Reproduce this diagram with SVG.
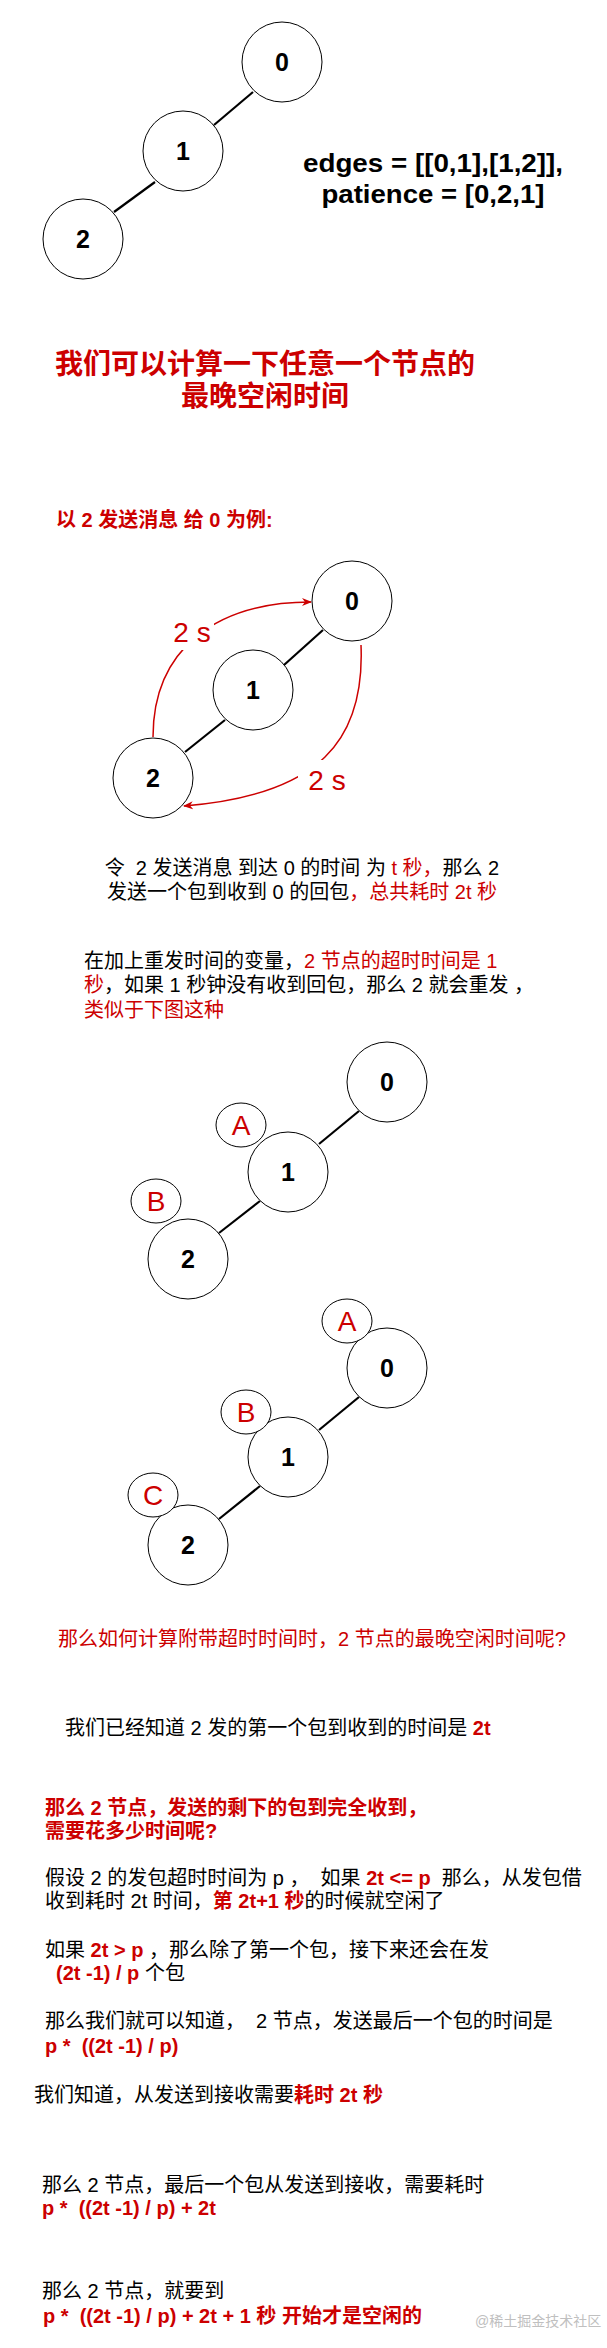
<svg xmlns="http://www.w3.org/2000/svg" width="607" height="2348" viewBox="0 0 607 2348">
<style>
.nd circle{fill:#fff;stroke:#000;stroke-width:1}
.nl{font-family:"Liberation Sans",Arial,sans-serif;font-weight:bold;font-size:25px;text-anchor:middle;fill:#000}
.pk ellipse{fill:#fff;stroke:#000;stroke-width:1}
.pl{font-family:"Liberation Sans",Arial,sans-serif;font-size:28px;text-anchor:middle;fill:#CC0000}
.edge{stroke:#000;stroke-width:2.2;fill:none}
.arc{stroke:#CC0000;stroke-width:1.5;fill:none;marker-end:url(#ah)}
.t{font-family:"Liberation Sans","Noto Sans CJK SC",sans-serif;font-size:20px;fill:#000;white-space:pre}
.r{fill:#CC0000}
.b{font-weight:bold}
.h{font-family:"Liberation Sans","Noto Sans CJK SC",sans-serif;font-size:28px;font-weight:bold;fill:#CC0000;text-anchor:middle}
.big{font-family:"Liberation Sans",Arial,sans-serif;font-size:26px;font-weight:bold;fill:#000;text-anchor:middle}
</style>
<defs>
<marker id="ah" viewBox="0 0 10 10" refX="9" refY="5" markerWidth="10" markerHeight="10" markerUnits="userSpaceOnUse" orient="auto">
<path d="M0,1 L10,5 L0,9 L3,5 Z" fill="#CC0000"/>
</marker>
</defs>
<rect width="607" height="2348" fill="#fff"/>

<!-- Graph 1 -->
<g id="g1-edges">
<line class="edge" x1="214" y1="125" x2="253" y2="92"/>
<line class="edge" x1="155" y1="182" x2="114" y2="212"/>
</g>
<g id="g1-node0" class="nd"><circle cx="282" cy="62" r="40"/><text class="nl" x="282" y="71">0</text></g>
<g id="g1-node1" class="nd"><circle cx="183" cy="151" r="40"/><text class="nl" x="183" y="160">1</text></g>
<g id="g1-node2" class="nd"><circle cx="83" cy="239" r="40"/><text class="nl" x="83" y="248">2</text></g>
<g id="g1-info">
<text class="big" x="433" y="172" textLength="260" lengthAdjust="spacingAndGlyphs">edges = [[0,1],[1,2]],</text>
<text class="big" x="433" y="203" textLength="223" lengthAdjust="spacingAndGlyphs">patience = [0,2,1]</text>
</g>

<g id="heading">
<text class="h" x="265" y="374">我们可以计算一下任意一个节点的</text>
<text class="h" x="265" y="406">最晚空闲时间</text>
</g>
<text id="example-title" class="t r b" x="56" y="527">以 2 发送消息 给 0 为例:</text>

<!-- Graph 2 -->
<g id="g2-edges">
<line class="edge" x1="284" y1="665" x2="323" y2="630"/>
<line class="edge" x1="185" y1="752" x2="225" y2="720"/>
<path class="arc" d="M153,737 C153,650 215,602 311,602"/>
<path class="arc" d="M361,645 C365,740 320,795 184,806"/>
<rect x="171" y="618" width="43" height="32" fill="#fff"/>
<text class="pl" x="192" y="642">2 s</text>
<rect x="298" y="760" width="54" height="36" fill="#fff"/>
<text class="pl" x="327" y="790">2 s</text>
</g>
<g id="g2-node0" class="nd"><circle cx="352" cy="601" r="40"/><text class="nl" x="352" y="610">0</text></g>
<g id="g2-node1" class="nd"><circle cx="253" cy="690" r="40"/><text class="nl" x="253" y="699">1</text></g>
<g id="g2-node2" class="nd"><circle cx="153" cy="778" r="40"/><text class="nl" x="153" y="787">2</text></g>

<g id="text-block1">
<text class="t" x="302" y="875" text-anchor="middle">令  2 发送消息 到达 0 的时间 为 <tspan class="r">t 秒，</tspan>那么 2</text>
<text class="t" x="302" y="899" text-anchor="middle">发送一个包到收到 0 的回包<tspan class="r">，总共耗时 2t 秒</tspan></text>
</g>
<g id="text-block2">
<text class="t" x="84" y="968">在加上重发时间的变量，<tspan class="r">2 节点的超时时间是 1</tspan></text>
<text class="t" x="84" y="992"><tspan class="r">秒</tspan>，如果 1 秒钟没有收到回包，那么 2 就会重发 ，</text>
<text class="t r" x="84" y="1017">类似于下图这种</text>
</g>

<!-- Graph 3 -->
<g id="g3-edges">
<line class="edge" x1="319" y1="1144" x2="359" y2="1111"/>
<line class="edge" x1="219" y1="1233" x2="260" y2="1201"/>
</g>
<g id="g3-node0" class="nd"><circle cx="387" cy="1082" r="40"/><text class="nl" x="387" y="1091">0</text></g>
<g id="g3-node1" class="nd"><circle cx="288" cy="1172" r="40"/><text class="nl" x="288" y="1181">1</text></g>
<g id="g3-node2" class="nd"><circle cx="188" cy="1259" r="40"/><text class="nl" x="188" y="1268">2</text></g>
<g id="g3-packetA" class="pk"><ellipse cx="241" cy="1125" rx="25" ry="22"/><text class="pl" x="241" y="1135">A</text></g>
<g id="g3-packetB" class="pk"><ellipse cx="156" cy="1201" rx="25" ry="22"/><text class="pl" x="156" y="1211">B</text></g>

<!-- Graph 4 -->
<g id="g4-edges">
<line class="edge" x1="319" y1="1430" x2="359" y2="1397"/>
<line class="edge" x1="219" y1="1519" x2="260" y2="1486"/>
</g>
<g id="g4-node0" class="nd"><circle cx="387" cy="1368" r="40"/><text class="nl" x="387" y="1377">0</text></g>
<g id="g4-node1" class="nd"><circle cx="288" cy="1457" r="40"/><text class="nl" x="288" y="1466">1</text></g>
<g id="g4-node2" class="nd"><circle cx="188" cy="1545" r="40"/><text class="nl" x="188" y="1554">2</text></g>
<g id="g4-packetA" class="pk"><ellipse cx="347" cy="1321" rx="25" ry="22"/><text class="pl" x="347" y="1331">A</text></g>
<g id="g4-packetB" class="pk"><ellipse cx="246" cy="1412" rx="25" ry="22"/><text class="pl" x="246" y="1422">B</text></g>
<g id="g4-packetC" class="pk"><ellipse cx="153" cy="1495" rx="25" ry="22"/><text class="pl" x="153" y="1505">C</text></g>

<g id="text-block3">
<text class="t r" x="58" y="1646">那么如何计算附带超时时间时，2 节点的最晚空闲时间呢?</text>
<text class="t" x="65" y="1735">我们已经知道 2 发的第一个包到收到的时间是 <tspan class="r b">2t</tspan></text>
<text class="t r b" x="45" y="1815">那么 2 节点，发送的剩下的包到完全收到，</text>
<text class="t r b" x="45" y="1838">需要花多少时间呢?</text>
<text class="t" x="45" y="1885">假设 2 的发包超时时间为 p ，  如果 <tspan class="r b">2t &lt;= p</tspan>  那么，从发包借</text>
<text class="t" x="45" y="1908">收到耗时 2t 时间，<tspan class="r b">第 2t+1 秒</tspan>的时候就空闲了</text>
<text class="t" x="45" y="1957">如果 <tspan class="r b">2t &gt; p</tspan> ，那么除了第一个包，接下来还会在发</text>
<text class="t" x="56" y="1980"><tspan class="r b">(2t -1) / p</tspan> 个包</text>
<text class="t" x="45" y="2028">那么我们就可以知道，  2 节点，发送最后一个包的时间是</text>
<text class="t r b" x="45" y="2053">p *  ((2t -1) / p)</text>
<text class="t" x="34" y="2102">我们知道，从发送到接收需要<tspan class="r b">耗时 2t 秒</tspan></text>
<text class="t" x="42" y="2192">那么 2 节点，最后一个包从发送到接收，需要耗时</text>
<text class="t r b" x="42" y="2215">p *  ((2t -1) / p) + 2t</text>
<text class="t" x="42" y="2298">那么 2 节点，就要到</text>
<text class="t r b" x="43" y="2323">p *  ((2t -1) / p) + 2t + 1 秒 开始才是空闲的</text>
</g>
<text id="watermark" x="475" y="2326" font-family="'Liberation Sans','Noto Sans CJK SC',sans-serif" font-size="14" fill="#c0c0c0">@稀土掘金技术社区</text>
</svg>
